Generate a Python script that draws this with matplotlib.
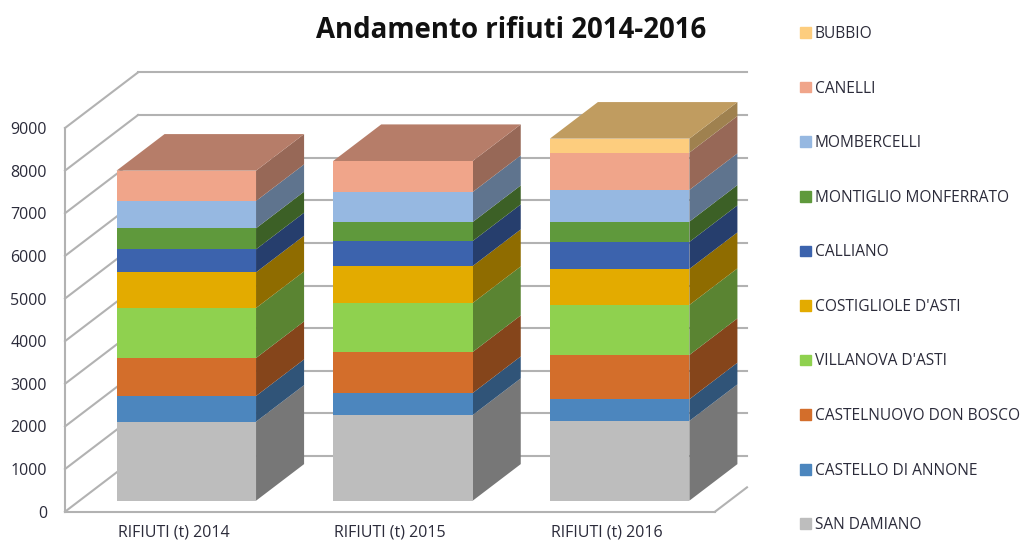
import numpy as np
import matplotlib
matplotlib.use('Agg')
import matplotlib.pyplot as plt
from matplotlib.colors import to_rgb
from matplotlib.patches import Patch

plt.rc('font', family='Open Sans')

# data
categories = ['RIFIUTI (t) 2014', 'RIFIUTI (t) 2015', 'RIFIUTI (t) 2016']
comuni = ['SAN DAMIANO', 'CASTELLO DI ANNONE', 'CASTELNUOVO DON BOSCO',
          "VILLANOVA D'ASTI", "COSTIGLIOLE D'ASTI", 'CALLIANO',
          'MONTIGLIO MONFERRATO', 'MOMBERCELLI', 'CANELLI', 'BUBBIO']
rifiuti_2014 = [1853, 603, 891, 1173, 837, 540, 493, 640, 711, 0]
rifiuti_2015 = [2010, 516, 962, 1149, 868, 586, 446, 704, 727, 0]
rifiuti_2016 = [1870, 509, 1039, 1173, 845, 633, 476, 744, 875, 328]
colors = ['#bdbdbd', '#4c86be', '#d36e2b', '#8fd14f', '#e3ab00',
          '#3c63ad', '#5f993c', '#96b8e1', '#f0a58a', '#fdcd7e']
yticks = np.arange(0, 10000, 1000)

# oblique projection of the 3d box, in axis units
wall_dx, wall_dy = 0.337, 1304
bar_front, bar_back = 0.198, 0.856
bar_w = 0.644
bar_shift = -.007
wall_end = 2.31
grid_c = '#b2b2b2'


def shade(c, f):
    return tuple(v*f for v in to_rgb(c))


def pts(x, y, d):
    return x + d*wall_dx, y + d*wall_dy


fig = plt.figure(figsize=(10.23, 5.41), dpi=100)
ax = fig.add_axes([65/1023, 1 - 511.7/541, 650/1023, 383.7/541])
ax.set_xlim(-.5, 2.5)
ax.set_ylim(0, 9000)

# walls and floor
for v in yticks:
    ax.plot([-.5, -.5 + wall_dx], [v, v + wall_dy], color=grid_c, lw=1.5,
            clip_on=False, zorder=1)
    ax.plot([-.5 + wall_dx, wall_end + wall_dx], [v + wall_dy, v + wall_dy],
            color=grid_c, lw=1.5, clip_on=False, zorder=1)
ax.plot([2.5, 2.5 + .438*wall_dx], [0, .438*wall_dy], color=grid_c, lw=1.5,
        clip_on=False, zorder=1)

# stacked boxes
series = [rifiuti_2014, rifiuti_2015, rifiuti_2016]
for i, vals in enumerate(series):
    x0, x1 = i + bar_shift - bar_w/2, i + bar_shift + bar_w/2
    tops = np.cumsum(vals)
    bottoms = tops - np.array(vals)
    last = np.nonzero(vals)[0][-1]
    for j, (b, t) in enumerate(zip(bottoms, tops)):
        if vals[j] == 0:
            continue
        c = colors[j]
        fx0, fb = pts(x0, b, bar_front)
        fx1, ft = pts(x1, t, bar_front)
        bx1, bb = pts(x1, b, bar_back)
        _, bt = pts(x1, t, bar_back)
        bx0, _ = pts(x0, t, bar_back)
        ax.fill([fx1, bx1, bx1, fx1], [fb, bb, bt, ft], color=shade(c, .63),
                lw=0, clip_on=False, zorder=3)
        ax.fill([fx0, fx1, fx1, fx0], [fb, fb, ft, ft], color=c, lw=0,
                clip_on=False, zorder=4)
        if j == last:
            ax.fill([fx0, fx1, bx1, bx0], [ft, ft, bt, bt],
                    color=shade(c, .76), lw=0, clip_on=False, zorder=4)

ax.set_xticks(range(3), categories)
ax.set_yticks(yticks)
ax.tick_params(length=0, labelcolor='#2b2b3a')
ax.tick_params(axis='y', labelsize=11.5, pad=13)
ax.tick_params(axis='x', labelsize=11.5, pad=9)
for s in ['top', 'right']:
    ax.spines[s].set_visible(False)
for s in ['left', 'bottom']:
    ax.spines[s].set_color(grid_c)
    ax.spines[s].set_linewidth(1.5)

fig.text(511/1023, 1 - 31/541, 'Andamento rifiuti 2014-2016', ha='center',
         va='center', fontsize=19.9, fontweight='bold', color='#111111')

handles = [Patch(color=c, label=n) for c, n in zip(colors, comuni)][::-1]
fig.legend(handles=handles, loc='upper left',
           bbox_to_anchor=(800/1023, 1 - 26/541), frameon=False,
           fontsize=11.2, labelcolor='#2b2b3a', labelspacing=2.48,
           handlelength=.68, handleheight=.68, handletextpad=.26,
           borderaxespad=0, borderpad=0)

fig.savefig('out.png', dpi=100)
